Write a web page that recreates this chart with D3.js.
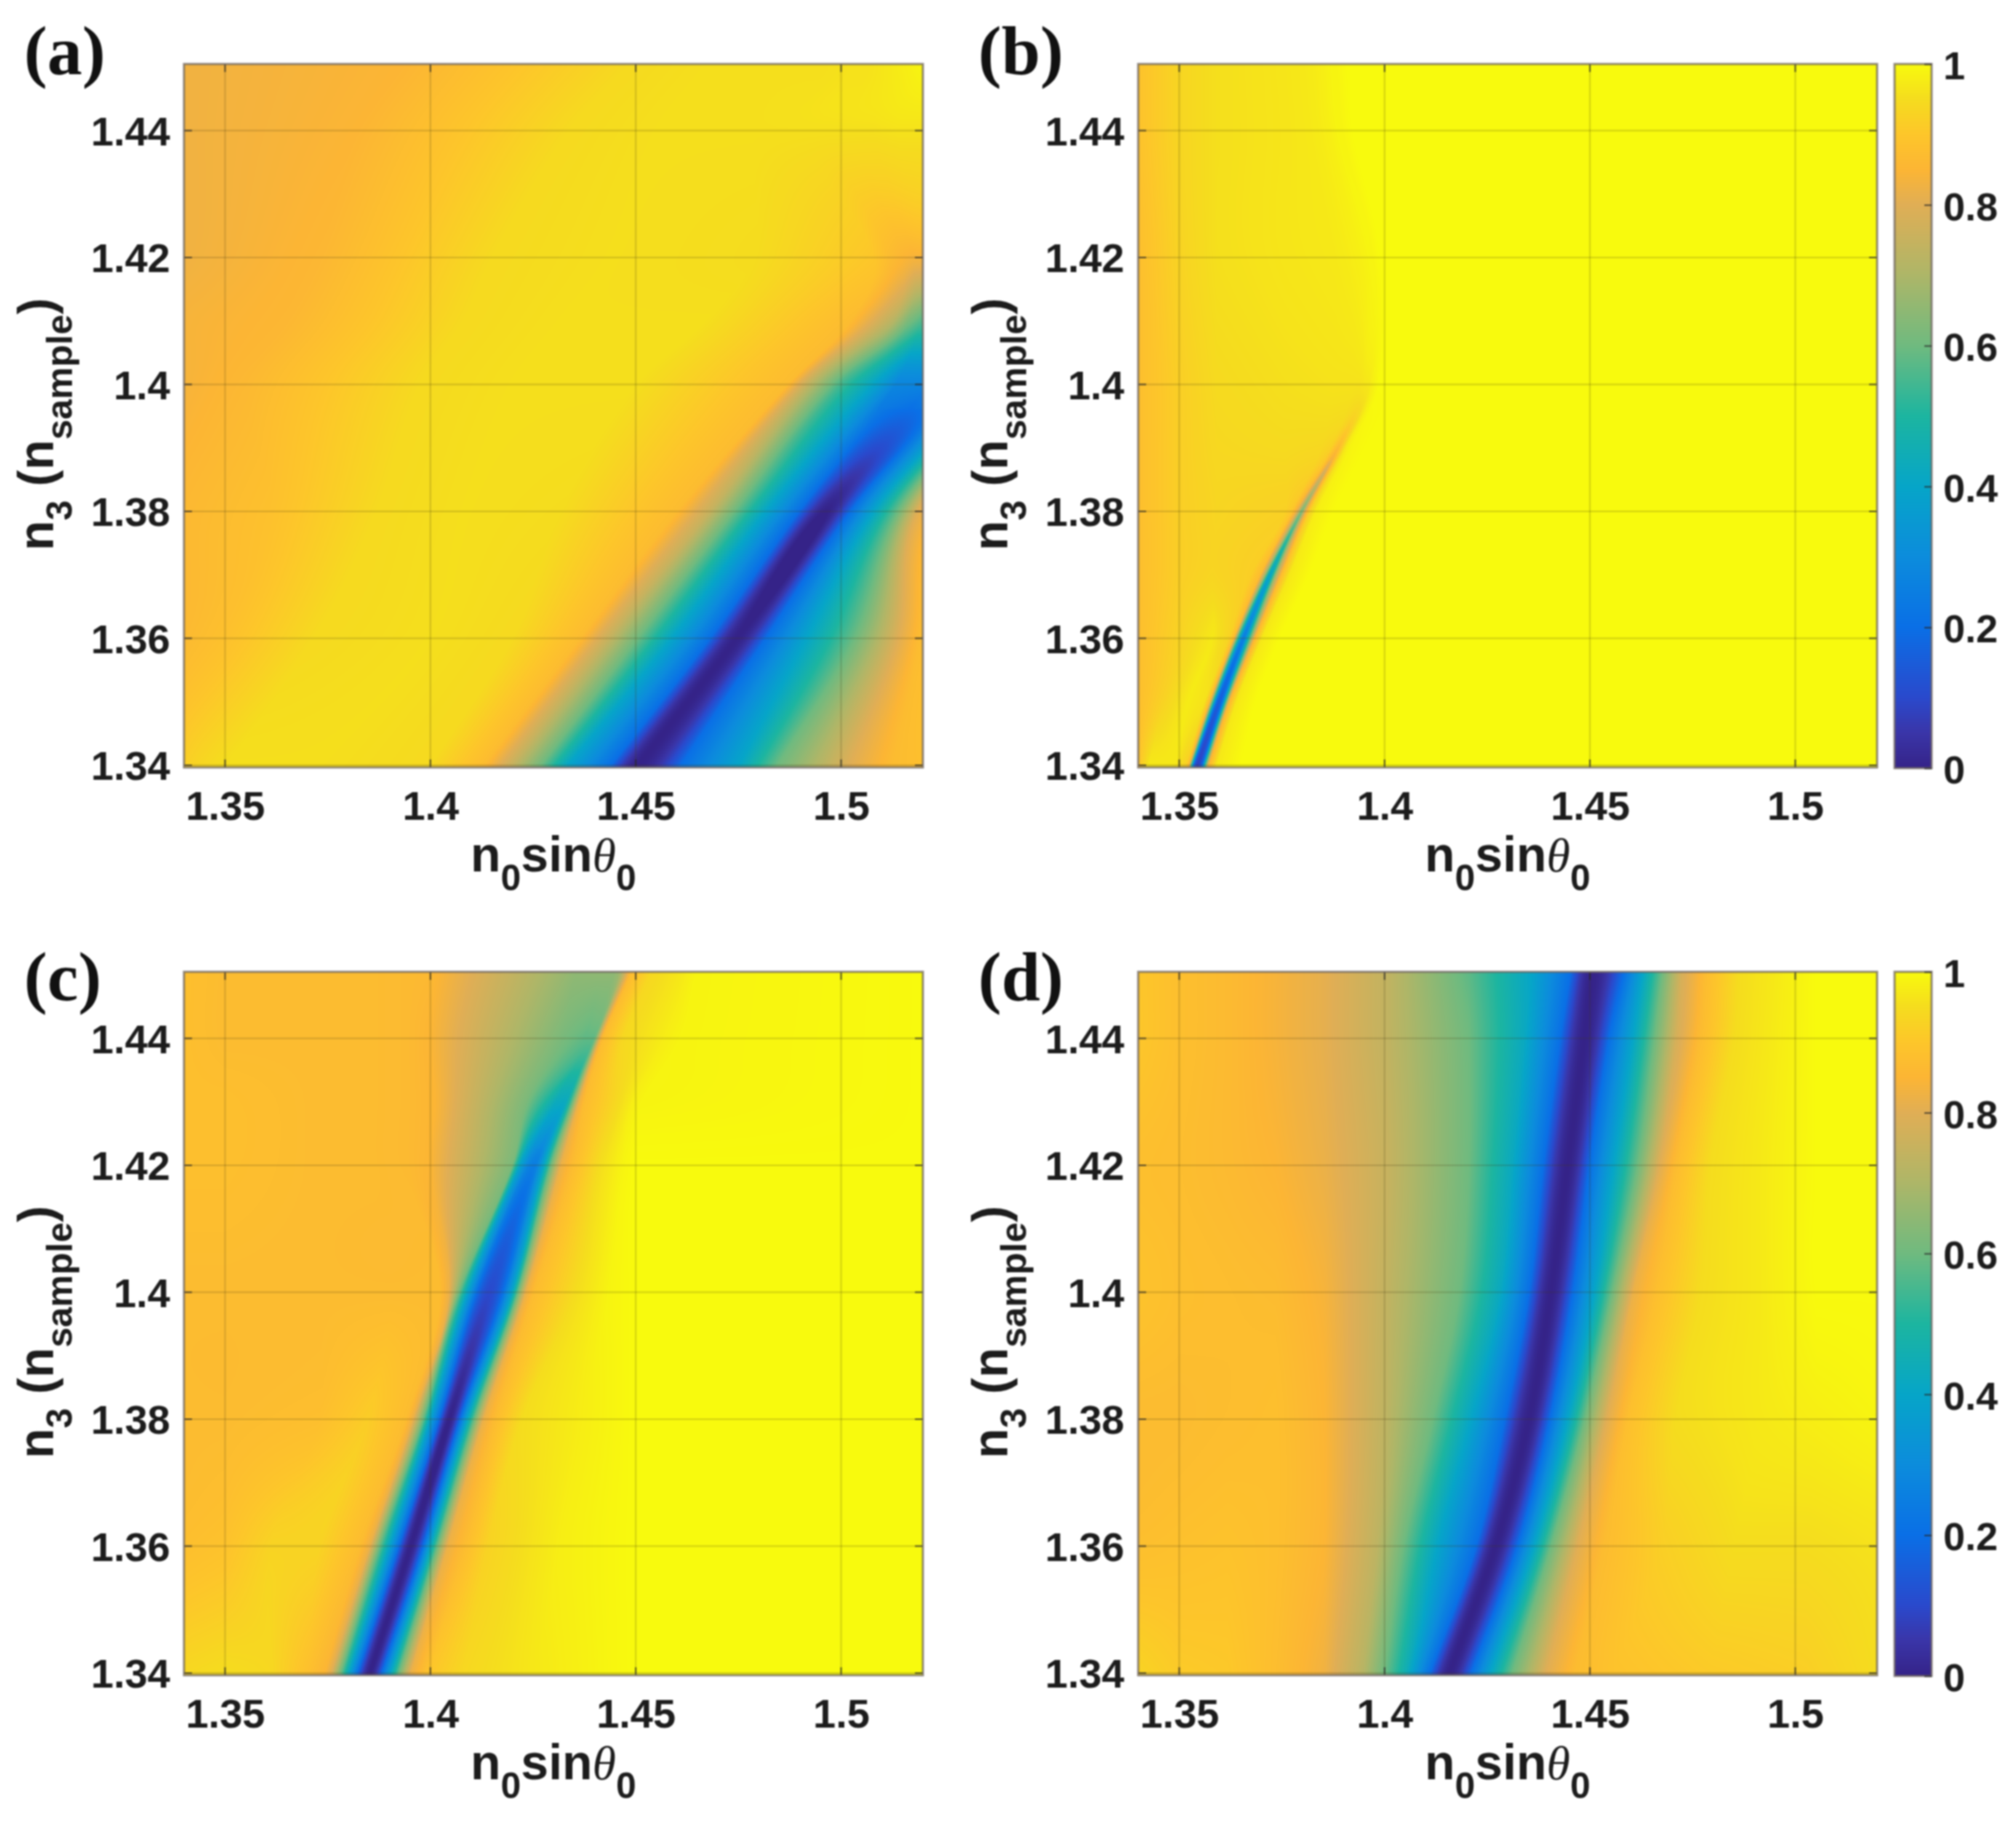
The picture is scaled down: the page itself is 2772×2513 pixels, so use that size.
<!DOCTYPE html>
<html><head><meta charset="utf-8">
<script src="https://cdn.jsdelivr.net/npm/d3@7"></script>
<style>html,body{margin:0;padding:0;background:#fff}svg{display:block}</style>
</head><body><div id="chart"></div>
<script>
// ---------- values ----------
const xTicks = [1.35, 1.4, 1.45, 1.5];
const yTicks = [1.34, 1.36, 1.38, 1.4, 1.42, 1.44];
const barTicks = [0, 0.2, 0.4, 0.6, 0.8, 1];
const panelLetters = ["(a)", "(b)", "(c)", "(d)"];
const colorStops = [0, .05, .1, .2, .3, .4, .5, .6, .7, .8, .85, .9, .95, 1];
const colorValues = ["#352388","#3a35a8","#2a49cc","#0a6fe6","#0c8cdc","#06a5c8","#1cb5a0","#6fba7f","#adb668","#e0ae55","#fcb534","#fdc62a","#f5dc1e","#f8fa0d"];

// each panel: reflectance read along rows of n3; aRows[i] -> positions aX[i] with values aZ[i]
const aRows = [1.34, 1.36, 1.38, 1.40, 1.41, 1.42, 1.44, 1.45];
const aX = [
[1.34,1.3435,1.3506,1.3729,1.3999,1.4129,1.4199,1.4270,1.4334,1.4440,1.4505,1.4610,1.4752,1.4845,1.5022,1.5127,1.52],
[1.34,1.35,1.3717,1.3999,1.4199,1.4364,1.4434,1.4505,1.4587,1.4681,1.4746,1.4816,1.4916,1.5033,1.5139,1.5192,1.5257],
[1.34,1.3612,1.387,1.4082,1.4317,1.4599,1.4681,1.4740,1.4816,1.4898,1.4963,1.5022,1.5080,1.5139,1.5186,1.5233,1.5304],
[1.34,1.3553,1.3976,1.4199,1.4499,1.4869,1.4928,1.4998,1.5069,1.5133,1.5210,1.5280,1.5327,1.5374,1.5433,1.5492,1.5550],
[1.34,1.3647,1.4082,1.4317,1.4669,1.5022,1.5075,1.5127,1.5163,1.5192,1.5257,1.5315,1.5374,1.5409,1.5456,1.5503,1.5562],
[1.34,1.3729,1.4152,1.4434,1.4787,1.5080,1.5116,1.5151,1.5174,1.5192,1.5257,1.5315,1.5374,1.5409,1.5456,1.5503,1.5562],
[1.34,1.3823,1.4340,1.4552,1.4787,1.4904,1.4963,1.5022,1.5080,1.5139,1.5192,1.5257,1.5315,1.5374,1.5409,1.5456,1.5503],
[1.34,1.3929,1.4481,1.4669,1.4845,1.4963,1.5022,1.5069,1.5116,1.5163,1.5192,1.5257,1.5315,1.5374,1.5409,1.5456,1.5503]];
const aZ = [
[.92,.935,.955,.955,.945,.87,.75,.6,.4,.2,0,.2,.4,.6,.8,.87,.88],
[.865,.885,.945,.955,.945,.87,.75,.6,.4,.2,0,.2,.4,.6,.8,.87,.9],
[.86,.885,.945,.955,.95,.87,.75,.6,.4,.2,0,.2,.4,.6,.8,.87,.9],
[.84,.86,.945,.955,.955,.87,.72,.55,.42,.28,.27,.3,.4,.6,.8,.87,.9],
[.84,.855,.945,.955,.955,.87,.8,.72,.62,.57,.55,.58,.6,.7,.8,.87,.9],
[.83,.855,.945,.955,.95,.9,.87,.85,.84,.84,.85,.85,.87,.88,.9,.9,.92],
[.83,.85,.945,.955,.955,.955,.955,.955,.955,.96,.96,.96,.96,.96,.96,.96,.96],
[.83,.85,.945,.955,.955,.955,.96,.96,.97,.98,.99,.99,.99,.99,.99,.99,.99]];

const bRows = [1.34, 1.35, 1.36, 1.37, 1.38, 1.39, 1.40, 1.42, 1.44, 1.45];
const bX = [
[1.34,1.3426,1.3491,1.3518,1.3524,1.3530,1.3535,1.3544,1.3556,1.3562,1.3571,1.3591,1.3650,1.52],
[1.34,1.3462,1.3521,1.3562,1.3574,1.3583,1.3589,1.3597,1.3606,1.3612,1.3621,1.3639,1.3686,1.52],
[1.34,1.35,1.3580,1.3621,1.3633,1.3642,1.3649,1.3656,1.3663,1.3671,1.3683,1.3701,1.3745,1.52],
[1.34,1.35,1.3580,1.3674,1.3698,1.3708,1.3715,1.3721,1.3728,1.3736,1.3748,1.3768,1.3816,1.52],
[1.34,1.35,1.3591,1.3757,1.3774,1.3786,1.3793,1.3798,1.3803,1.3810,1.3819,1.3833,1.3875,1.52],
[1.34,1.35,1.3591,1.3757,1.3845,1.3869,1.3878,1.3886,1.3892,1.3898,1.3904,1.3916,1.3951,1.52],
[1.34,1.35,1.3591,1.3757,1.3875,1.3922,1.3940,1.3951,1.3963,1.3969,1.3978,1.3987,1.4016,1.52],
[1.34,1.35,1.3591,1.3757,1.3875,1.3910,1.3934,1.3951,1.3963,1.3972,1.3981,1.3990,1.4022,1.52],
[1.34,1.35,1.3591,1.3757,1.3816,1.3845,1.3863,1.3875,1.3886,1.3898,1.3910,1.3922,1.3963,1.52],
[1.34,1.35,1.3591,1.3745,1.3800,1.3830,1.3848,1.3860,1.3872,1.3884,1.3896,1.3908,1.3950,1.52]];
const bZ = [
[.89,.97,.97,.92,.85,.5,.2,.08,.2,.5,.85,.97,1,1],
[.88,.93,.975,.96,.87,.5,.25,.15,.25,.5,.85,.97,1,1],
[.88,.93,.97,.93,.87,.55,.35,.25,.35,.55,.85,.97,1,1],
[.88,.92,.935,.92,.87,.7,.5,.4,.5,.7,.87,.97,1,1],
[.88,.92,.935,.925,.9,.82,.7,.62,.72,.85,.93,.98,1,1],
[.88,.92,.94,.945,.94,.925,.89,.86,.89,.93,.97,.99,1,1],
[.88,.92,.945,.955,.96,.96,.96,.965,.97,.98,.99,1,1,1],
[.88,.93,.955,.965,.97,.975,.98,.985,.99,.99,.995,1,1,1],
[.89,.935,.955,.965,.97,.975,.98,.985,.99,.99,.995,1,1,1],
[.89,.935,.955,.965,.97,.975,.98,.985,.99,.99,.995,1,1,1]];

const cRows = [1.34, 1.36, 1.38, 1.40, 1.42, 1.43, 1.44, 1.45];
const cX = [
[1.34,1.35,1.3612,1.3706,1.3743,1.3759,1.3782,1.3802,1.3823,1.3853,1.3882,1.3903,1.3923,1.3952,1.3999,1.4082,1.4258,1.4499,1.52],
[1.34,1.35,1.3612,1.3729,1.3829,1.3853,1.3876,1.39,1.3923,1.3952,1.3982,1.3999,1.4017,1.4041,1.4082,1.4140,1.4317,1.4499,1.52],
[1.34,1.35,1.3729,1.3847,1.3941,1.3958,1.3982,1.3999,1.4021,1.4046,1.4072,1.4089,1.4107,1.4129,1.4158,1.4223,1.4375,1.4499,1.52],
[1.34,1.35,1.3729,1.3905,1.4023,1.4046,1.4070,1.4090,1.4113,1.4143,1.4176,1.4199,1.4213,1.4232,1.4252,1.4352,1.4434,1.4499,1.52],
[1.34,1.35,1.3729,1.3847,1.3941,1.3999,1.4199,1.4217,1.4232,1.4252,1.4264,1.4276,1.4293,1.4317,1.4346,1.4411,1.4469,1.4499,1.52],
[1.34,1.35,1.3729,1.3847,1.3941,1.4010,1.4234,1.4281,1.4305,1.4323,1.4331,1.4338,1.4346,1.4361,1.4375,1.4440,1.4493,1.4516,1.52],
[1.34,1.35,1.3729,1.3847,1.3941,1.3999,1.4317,1.4375,1.4387,1.4393,1.4397,1.4399,1.4401,1.4413,1.4420,1.4469,1.4575,1.4610,1.52],
[1.34,1.35,1.3729,1.3847,1.3941,1.3999,1.4352,1.4411,1.4434,1.4446,1.4452,1.4458,1.4464,1.4479,1.4487,1.4534,1.4610,1.4646,1.52]];
const cZ = [
[.94,.95,.94,.88,.85,.8,.6,.4,.2,0,.2,.4,.6,.82,.9,.94,.97,1,1],
[.88,.89,.93,.93,.87,.82,.6,.4,.2,0,.2,.4,.6,.82,.87,.93,.98,1,1],
[.87,.87,.88,.915,.87,.82,.6,.4,.2,0,.2,.4,.6,.82,.87,.95,.98,1,1],
[.87,.87,.87,.87,.87,.82,.6,.4,.2,.1,.2,.4,.6,.82,.87,.95,.99,1,1],
[.88,.88,.87,.87,.865,.85,.62,.4,.3,.25,.3,.4,.6,.82,.87,.95,.99,1,1],
[.88,.88,.87,.87,.865,.85,.62,.5,.43,.42,.43,.5,.6,.82,.87,.93,.98,.99,1],
[.88,.87,.87,.87,.865,.85,.62,.58,.58,.58,.58,.59,.6,.82,.87,.94,.98,.99,1],
[.88,.87,.87,.87,.865,.86,.65,.65,.65,.65,.66,.67,.7,.82,.87,.94,.97,.99,1]];

const dRows = [1.34, 1.36, 1.38, 1.40, 1.42, 1.44, 1.45];
const dX = [
[1.34,1.35,1.3618,1.3735,1.3853,1.3947,1.40,1.4052,1.4111,1.4158,1.4211,1.4258,1.4311,1.4393,1.4464,1.4558,1.4793,1.5028,1.52],
[1.34,1.35,1.3618,1.3735,1.3853,1.3982,1.4046,1.4129,1.4223,1.4270,1.4323,1.4364,1.4405,1.4469,1.4534,1.4675,1.4851,1.5028,1.52],
[1.34,1.35,1.3618,1.3735,1.3853,1.4005,1.4117,1.4211,1.4293,1.4352,1.4402,1.4446,1.4487,1.4540,1.4593,1.4710,1.4910,1.5051,1.52],
[1.34,1.35,1.3618,1.3735,1.3853,1.4005,1.4182,1.4281,1.4352,1.4405,1.4458,1.4511,1.4558,1.4605,1.4663,1.4769,1.4910,1.5051,1.52],
[1.34,1.35,1.3618,1.3735,1.3853,1.4005,1.4205,1.4311,1.4387,1.4446,1.4499,1.4558,1.4616,1.4669,1.4710,1.4793,1.4910,1.5051,1.52],
[1.34,1.35,1.3618,1.3735,1.3853,1.4005,1.4205,1.4340,1.4428,1.4487,1.4546,1.4605,1.4657,1.4710,1.4769,1.4851,1.4934,1.5051,1.52],
[1.34,1.35,1.3618,1.3735,1.3853,1.4005,1.4205,1.4358,1.4452,1.4505,1.4569,1.4628,1.4675,1.4722,1.4781,1.4863,1.4945,1.5051,1.52]];
const dZ = [
[.93,.91,.905,.875,.83,.72,.6,.45,.2,0,.2,.4,.6,.8,.87,.89,.91,.92,.95],
[.88,.885,.89,.88,.85,.73,.6,.4,.2,0,.2,.4,.6,.8,.87,.92,.95,.95,.96],
[.87,.87,.875,.88,.85,.73,.6,.4,.2,0,.2,.4,.6,.8,.88,.95,.97,.98,.99],
[.89,.88,.875,.87,.84,.74,.6,.42,.2,0,.2,.4,.62,.82,.88,.95,.97,1,1],
[.88,.875,.865,.85,.82,.75,.6,.42,.2,0,.2,.4,.6,.8,.87,.95,.97,1,1],
[.9,.88,.865,.84,.81,.74,.6,.42,.2,0,.2,.4,.6,.78,.87,.95,.97,1,1],
[.9,.88,.865,.84,.81,.74,.58,.4,.2,0,.15,.4,.6,.78,.87,.95,.97,1,1]];

const tables = [[aRows,aX,aZ],[bRows,bX,bZ],[cRows,cX,cZ],[dRows,dX,dZ]];

// ---------- layout ----------
const W = 2772, H = 2513;
const xUnit = 5647, yUnit = 8725;
const FONT = "'Liberation Sans',Arial,sans-serif";
const panels = [
  {ox:0,    oy:0,    letterY:102,  bar:false},
  {ox:1312, oy:0,    letterY:102,  bar:true},
  {ox:0,    oy:1248, letterY:1375, bar:false},
  {ox:1312, oy:1248, letterY:1375, bar:true}];

const color = d3.scaleLinear().domain(colorStops).range(colorValues).clamp(true);
const lut = d3.range(1025).map(i => d3.rgb(color(i/1024)));

function hermiteAcross(rows, table, y) {
  // smooth reading between the sampled rows, per stop
  const n = rows.length;
  let i = d3.bisectRight(rows, y) - 1;
  i = Math.max(0, Math.min(n-2, i));
  const t0 = rows[i], t1 = rows[i+1], h = t1 - t0, t = (y - t0)/h;
  const t2=t*t, t3=t2*t;
  return table[i].map((_, k) => {
    const p0 = table[i][k], p1 = table[i+1][k];
    const m0 = i>0 ? (p1 - table[i-1][k])/(t1 - rows[i-1]) : (p1-p0)/h;
    const m1 = i<n-2 ? (table[i+2][k] - p0)/(rows[i+2] - t0) : (p1-p0)/h;
    return (2*t3-3*t2+1)*p0 + (t3-2*t2+t)*h*m0 + (-2*t3+3*t2)*p1 + (t3-t2)*h*m1;
  });
}

function isTroughFloor(zs, k) {
  return k>0 && k<zs.length-1 && zs[k-1]-zs[k] > .04 && zs[k+1]-zs[k] > .04;
}

function heatmapURL(tbl, x, y, pw, ph, left, top) {
  const [rows, X, Z] = tbl;
  const cv = document.createElement("canvas");
  cv.width = pw; cv.height = ph;
  const ctx = cv.getContext("2d");
  const img = ctx.createImageData(pw, ph);
  for (let py=0; py<ph; py++) {
    const v = Math.max(1.34, Math.min(1.45, y.invert(top+py+.5)));
    const xs = hermiteAcross(rows, X, v), zs = hermiteAcross(rows, Z, v);
    for (let k=1;k<xs.length;k++) if (xs[k] <= xs[k-1]) xs[k] = xs[k-1] + 1e-6;
    let k = 0;
    for (let px=0; px<pw; px++) {
      const u = x.invert(left+px+.5);
      while (k < xs.length-2 && u > xs[k+1]) k++;
      let f = Math.max(0, Math.min(1, (u-xs[k])/(xs[k+1]-xs[k])));
      // rounded floor of a reflectance dip
      if (isTroughFloor(zs,k)) f = f*f;
      else if (isTroughFloor(zs,k+1)) f = 1-(1-f)*(1-f);
      const z = Math.max(0, Math.min(1, zs[k] + f*(zs[k+1]-zs[k])));
      const c = lut[Math.round(z*1024)];
      const o = (py*pw+px)*4;
      img.data[o]=c.r; img.data[o+1]=c.g; img.data[o+2]=c.b; img.data[o+3]=255;
    }
  }
  ctx.putImageData(img,0,0);
  return cv.toDataURL();
}

const svg = d3.select("#chart").append("svg")
  .attr("width", W).attr("height", H).attr("viewBox", `0 0 ${W} ${H}`)
  .style("background","#fff");
const root = svg.append("g").style("filter","blur(1.2px)");

panels.forEach((p, idx) => {
  const x = d3.scaleLinear().domain([1.34,1.52]).range([253+p.ox, 253+p.ox+0.18*xUnit]);
  const y = d3.scaleLinear().domain([1.34,1.44]).range([1052+p.oy, 1052+p.oy-0.1*yUnit]);
  const L = Math.round(x(1.34)), R = Math.round(x(1.52)), T = 88+p.oy, B = 1055+p.oy;
  const g = root.append("g");

  g.append("image").attr("x",L).attr("y",T).attr("width",R-L).attr("height",B-T)
    .attr("href", heatmapURL(tables[idx], x, y, R-L, B-T, L, T));

  // grid
  const gridStroke = "rgba(70,60,20,0.22)";
  g.selectAll(".gx").data(xTicks).join("line").attr("x1",x).attr("x2",x).attr("y1",T).attr("y2",B)
    .attr("stroke",gridStroke).attr("stroke-width",2);
  g.selectAll(".gy").data(yTicks).join("line").attr("y1",y).attr("y2",y).attr("x1",L).attr("x2",R)
    .attr("stroke",gridStroke).attr("stroke-width",2);

  // tick marks on all four sides
  const tickStroke = "rgba(40,40,40,0.75)", tl = 11;
  [[B,-tl],[T,tl]].forEach(([yy,d]) => g.append("g").selectAll("line").data(xTicks).join("line")
    .attr("x1",x).attr("x2",x).attr("y1",yy).attr("y2",yy+d).attr("stroke",tickStroke).attr("stroke-width",2));
  [[L,tl],[R,-tl]].forEach(([xx,d]) => g.append("g").selectAll("line").data(yTicks).join("line")
    .attr("y1",y).attr("y2",y).attr("x1",xx).attr("x2",xx+d).attr("stroke",tickStroke).attr("stroke-width",2));

  g.append("rect").attr("x",L).attr("y",T).attr("width",R-L).attr("height",B-T)
    .attr("fill","none").attr("stroke","rgba(110,100,95,0.75)").attr("stroke-width",3);

  // axes (labels)
  const ax = g.append("g").attr("transform",`translate(0,${B})`)
    .call(d3.axisBottom(x).tickValues(xTicks).tickSize(0).tickFormat(d=>String(d)));
  ax.select(".domain").remove();
  ax.selectAll("text").attr("y",72).attr("dy",0).attr("fill","#1c1c1c")
    .style("font",`bold 56px ${FONT}`);

  const ay = g.append("g").attr("transform",`translate(${L},0)`)
    .call(d3.axisLeft(y).tickValues(yTicks).tickSize(0).tickFormat(d=>String(d)));
  ay.select(".domain").remove();
  ay.selectAll("text").attr("x",-19).attr("dy","0.35em").attr("fill","#1c1c1c")
    .style("font",`bold 56px ${FONT}`);

  // axis titles
  const xl = g.append("text").attr("x",647+p.ox).attr("y",1198+p.oy)
    .attr("fill","#1c1c1c").style("font",`bold 68px ${FONT}`);
  xl.append("tspan").text("n");
  xl.append("tspan").attr("dy",26).style("font-size","50px").text("0");
  xl.append("tspan").attr("dy",-26).text("sin");
  xl.append("tspan").style("font",`italic 400 66px 'Liberation Serif',serif`).text("θ");
  xl.append("tspan").attr("dy",26).style("font-size","50px").text("0");

  const yl = g.append("text").attr("transform",`translate(${73+p.ox},${757+p.oy}) rotate(-90)`)
    .attr("fill","#1c1c1c").style("font",`bold 68px ${FONT}`);
  yl.append("tspan").text("n");
  yl.append("tspan").attr("dy",26).style("font-size","50px").text("3");
  yl.append("tspan").attr("dy",-26).text(" (n");
  yl.append("tspan").attr("dy",26).style("font-size","50px").text("sample");
  yl.append("tspan").attr("dy",-26).text(")");

  // panel letter
  g.append("text").attr("x",33+p.ox).attr("y",p.letterY).attr("fill","#111")
    .style("font","bold 96px 'Liberation Serif',serif").text(panelLetters[idx]);

  // colour bar
  if (p.bar) {
    const bx0=2605, bx1=2656, by0=88+p.oy, by1=1056+p.oy;
    const c = d3.scaleLinear().domain([0,1]).range([by1,by0]);
    const cv = document.createElement("canvas");
    cv.width = 1; cv.height = by1-by0;
    const ctx = cv.getContext("2d");
    for (let i=0;i<cv.height;i++){ ctx.fillStyle = color(c.invert(by0+i+.5)); ctx.fillRect(0,i,1,1); }
    g.append("image").attr("x",bx0).attr("y",by0).attr("width",bx1-bx0).attr("height",by1-by0)
      .attr("preserveAspectRatio","none").attr("href",cv.toDataURL());
    g.append("rect").attr("x",bx0).attr("y",by0).attr("width",bx1-bx0).attr("height",by1-by0)
      .attr("fill","none").attr("stroke","rgba(110,100,95,0.75)").attr("stroke-width",3);
    const ab = g.append("g").attr("transform",`translate(${bx1},0)`)
      .call(d3.axisRight(c).tickValues(barTicks).tickSize(-10).tickFormat(d=>String(d)));
    ab.select(".domain").remove();
    ab.selectAll("line").attr("stroke",tickStroke).attr("stroke-width",2);
    ab.selectAll("text").attr("x",16).attr("dy","0.38em").attr("fill","#1c1c1c")
      .style("font",`bold 54px ${FONT}`);
  }
});
</script></body></html>
